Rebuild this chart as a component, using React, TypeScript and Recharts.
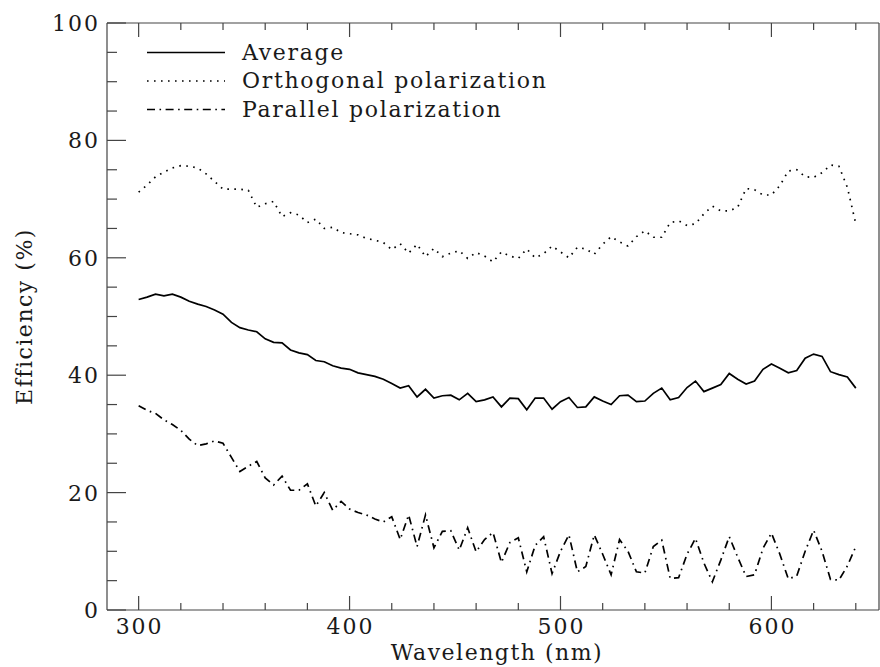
import React from 'react';
import { LineChart, Line, XAxis, YAxis } from 'recharts';

// wavelength samples (nm)
const WAVELENGTH = [
  300, 304, 308, 312, 316, 320, 324, 328, 332, 336,
  340, 344, 348, 352, 356, 360, 364, 368, 372, 376,
  380, 384, 388, 392, 396, 400, 404, 408, 412, 416,
  420, 424, 428, 432, 436, 440, 444, 448, 452, 456,
  460, 464, 468, 472, 476, 480, 484, 488, 492, 496,
  500, 504, 508, 512, 516, 520, 524, 528, 532, 536,
  540, 544, 548, 552, 556, 560, 564, 568, 572, 576,
  580, 584, 588, 592, 596, 600, 604, 608, 612, 616,
  620, 624, 628, 632, 636, 640,
];

const AVERAGE = [
  52.9, 53.3, 53.8, 53.5, 53.8, 53.3, 52.6, 52.1, 51.7, 51.1,
  50.4, 49.0, 48.1, 47.7, 47.4, 46.2, 45.6, 45.5, 44.3, 43.8,
  43.5, 42.5, 42.3, 41.6, 41.2, 41.0, 40.4, 40.1, 39.8, 39.3,
  38.6, 37.8, 38.2, 36.3, 37.6, 36.1, 36.5, 36.6, 35.8, 36.9,
  35.5, 35.8, 36.3, 34.6, 36.1, 36.0, 34.1, 36.1, 36.1, 34.2,
  35.5, 36.2, 34.5, 34.6, 36.3, 35.6, 35.0, 36.5, 36.6, 35.5,
  35.6, 36.9, 37.8, 35.8, 36.2, 37.9, 39.0, 37.2, 37.8, 38.4,
  40.3, 39.3, 38.5, 39.0, 41.0, 41.9, 41.2, 40.4, 40.8, 42.9,
  43.6, 43.2, 40.6, 40.1, 39.7, 37.8,
];

const ORTHOGONAL = [
  71.2, 72.4, 73.8, 74.6, 75.3, 75.7, 75.6, 75.3, 74.3, 73.0,
  71.7, 71.7, 71.7, 71.5, 68.6, 69.2, 69.6, 67.0, 67.7, 67.3,
  66.0, 66.6, 65.0, 65.2, 64.3, 64.1, 63.9, 63.3, 63.0, 62.6,
  61.4, 62.4, 60.8, 62.3, 60.2, 61.6, 60.2, 60.8, 61.2, 59.9,
  60.9, 60.3, 59.3, 61.0, 60.3, 59.9, 61.5, 60.0, 60.7, 62.0,
  61.0, 60.0, 61.8, 61.5, 60.6, 62.3, 63.6, 62.7, 62.0, 63.6,
  64.6, 63.5, 63.5, 66.0, 66.3, 65.5, 65.8, 67.5, 68.8, 68.0,
  68.0, 68.6, 71.8, 71.6, 70.7, 70.7, 72.3, 74.8, 75.0, 73.8,
  73.7, 74.5, 75.8, 75.6, 72.0, 65.8,
];

const PARALLEL = [
  34.8, 34.0, 33.5, 32.4, 31.6, 30.6, 29.1, 28.0, 28.3, 28.8,
  28.4, 26.0, 23.6, 24.5, 25.3, 22.5, 21.3, 22.8, 20.4, 20.4,
  21.5, 17.7, 20.0, 17.0, 18.5, 17.2, 16.6, 16.2, 15.5, 15.0,
  15.9, 12.0, 16.2, 10.8, 16.2, 10.6, 13.4, 13.5, 10.2, 14.0,
  9.9, 12.0, 13.2, 8.1, 11.5, 12.3, 6.5, 11.0, 12.5, 6.2,
  10.0, 12.8, 6.5, 7.4, 12.8, 9.5, 6.0, 12.0, 10.0, 6.5,
  6.3, 10.8, 11.9, 5.4, 5.5, 9.5, 12.2, 8.0, 4.8, 8.5,
  12.5, 9.0, 5.7, 6.0, 10.5, 13.1, 9.5, 5.3, 5.8, 10.0,
  13.6, 10.0, 5.2, 5.1, 7.5, 10.8,
];

const X_TICKS = [300, 320, 340, 360, 380, 400, 420, 440, 460, 480, 500, 520, 540, 560, 580, 600, 620, 640];
const X_LABELS = [300, 400, 500, 600];
const Y_TICKS = [0, 5, 10, 15, 20, 25, 30, 35, 40, 45, 50, 55, 60, 65, 70, 75, 80, 85, 90, 95, 100];
const Y_LABELS = [0, 20, 40, 60, 80, 100];

const SERIES = [
  { key: 'average', name: 'Average', dash: undefined },
  { key: 'orthogonal', name: 'Orthogonal polarization', dash: '1.6 5.4' },
  { key: 'parallel', name: 'Parallel polarization', dash: '8 4.5 1.6 4.5' },
];

const data = WAVELENGTH.map((w, i) => ({
  wavelength: w,
  average: AVERAGE[i],
  orthogonal: ORTHOGONAL[i],
  parallel: PARALLEL[i],
}));

const FONT = '"DejaVu Serif", "Liberation Serif", serif';
const FONT_SIZE = 22;
const INK = '#1a1a1a';
const FRAME = '#444';

const BottomTick = (props: any) => {
  const { x, y, payload } = props;
  const major = payload.value % 100 === 0;
  return (
    <g>
      <line x1={x} y1={y} x2={x} y2={y - (major ? 14 : 7)} stroke={FRAME} strokeWidth={1.2} />
      {X_LABELS.includes(payload.value) && (
        <text x={x + 1} y={y + 24} textAnchor="middle" fontFamily={FONT} fontSize={FONT_SIZE} letterSpacing={2} fill={INK}>
          {payload.value}
        </text>
      )}
    </g>
  );
};

const TopTick = (props: any) => {
  const { x, y, payload } = props;
  const major = payload.value % 100 === 0;
  return <line x1={x} y1={y} x2={x} y2={y + (major ? 14 : 7)} stroke={FRAME} strokeWidth={1.2} />;
};

const LeftTick = (props: any) => {
  const { x, y, payload } = props;
  const major = payload.value % 20 === 0;
  return (
    <g>
      <line x1={x} y1={y} x2={x + (major ? 19 : 10)} y2={y} stroke={FRAME} strokeWidth={1.2} />
      {Y_LABELS.includes(payload.value) && (
        <text x={x - 7} y={y + 8} textAnchor="end" fontFamily={FONT} fontSize={FONT_SIZE} letterSpacing={2} fill={INK}>
          {payload.value}
        </text>
      )}
    </g>
  );
};

const RightTick = (props: any) => {
  const { x, y, payload } = props;
  const major = payload.value % 20 === 0;
  return <line x1={x} y1={y} x2={x - (major ? 19 : 10)} y2={y} stroke={FRAME} strokeWidth={1.2} />;
};

const XTitle = (props: any) => {
  const { x, width, y } = props.viewBox;
  return (
    <text x={x + width / 2 + 4} y={y + 50} textAnchor="middle" fontFamily={FONT} fontSize={FONT_SIZE} letterSpacing={1.5} fill={INK}>
      Wavelength (nm)
    </text>
  );
};

const YTitle = (props: any) => {
  const { x, y, height } = props.viewBox;
  const cx = x + 32;
  const cy = y + height / 2;
  return (
    <text x={cx} y={cy} transform={`rotate(-90 ${cx} ${cy})`} textAnchor="middle" fontFamily={FONT} fontSize={FONT_SIZE} letterSpacing={1.5} fill={INK}>
      Efficiency (%)
    </text>
  );
};

export default function App() {
  return (
    <div style={{ position: 'absolute', left: 0, top: 0, width: 880, height: 667, background: '#fff' }}>
      <LineChart width={880} height={667} data={data} margin={{ top: 22, right: 0, bottom: 0, left: 0 }}>
        <XAxis
          dataKey="wavelength"
          type="number"
          domain={[285, 651]}
          ticks={X_TICKS}
          interval={0}
          height={57}
          tickSize={0}
          tickMargin={0}
          tickLine={false}
          axisLine={{ stroke: FRAME, strokeWidth: 1.2 }}
          tick={<BottomTick />}
          label={{ content: <XTitle /> }}
        />
        <XAxis
          xAxisId="top"
          orientation="top"
          dataKey="wavelength"
          type="number"
          domain={[285, 651]}
          ticks={X_TICKS}
          interval={0}
          height={1}
          tickSize={0}
          tickMargin={0}
          tickLine={false}
          axisLine={{ stroke: FRAME, strokeWidth: 1.2 }}
          tick={<TopTick />}
        />
        <YAxis
          type="number"
          domain={[0, 100]}
          ticks={Y_TICKS}
          interval={0}
          width={107}
          tickSize={0}
          tickMargin={0}
          tickLine={false}
          axisLine={{ stroke: FRAME, strokeWidth: 1.2 }}
          tick={<LeftTick />}
          label={{ content: <YTitle /> }}
        />
        <YAxis
          yAxisId="right"
          orientation="right"
          type="number"
          domain={[0, 100]}
          ticks={Y_TICKS}
          interval={0}
          width={1}
          tickSize={0}
          tickMargin={0}
          tickLine={false}
          axisLine={{ stroke: FRAME, strokeWidth: 1.2 }}
          tick={<RightTick />}
        />
        {SERIES.map((s) => (
          <Line
            key={s.key}
            type="linear"
            dataKey={s.key}
            name={s.name}
            stroke="#000"
            strokeWidth={1.7}
            strokeDasharray={s.dash}
            dot={false}
            isAnimationActive={false}
          />
        ))}
      </LineChart>
      <svg width={880} height={140} style={{ position: 'absolute', left: 0, top: 0, pointerEvents: 'none' }}>
        {SERIES.map((s, i) => {
          const y = 52.5 + i * 28.5;
          return (
            <g key={s.key}>
              <line x1={147} y1={y} x2={225} y2={y} stroke="#000" strokeWidth={1.7} strokeDasharray={s.dash} />
              <text x={242} y={y + 7} fontFamily={FONT} fontSize={FONT_SIZE} letterSpacing={1.7} fill={INK}>
                {s.name}
              </text>
            </g>
          );
        })}
      </svg>
    </div>
  );
}
